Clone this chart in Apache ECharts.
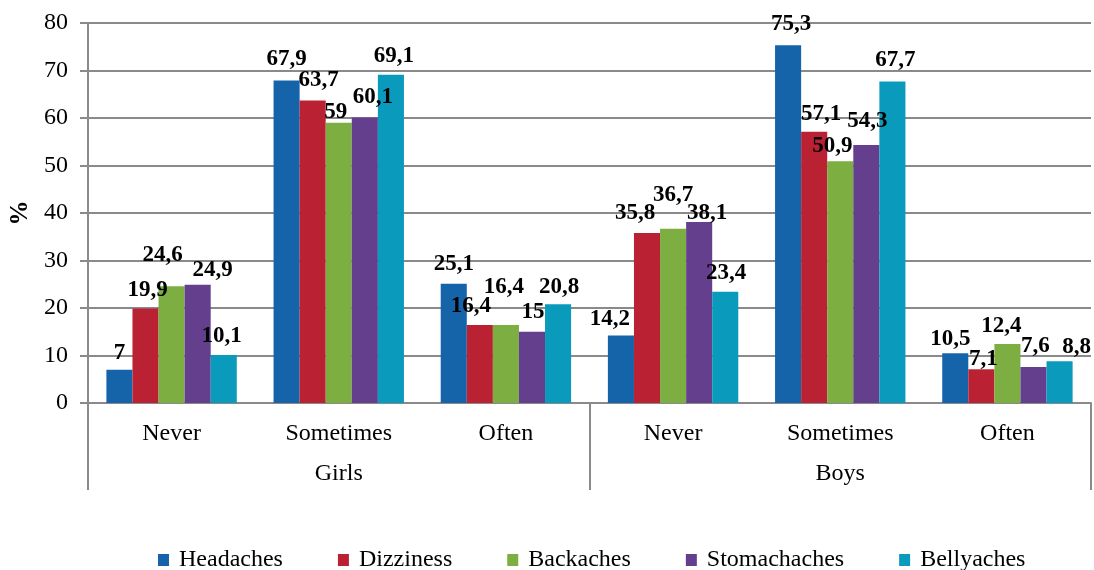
<!DOCTYPE html>
<html>
<head>
<meta charset="utf-8">
<script src="https://cdn.jsdelivr.net/npm/echarts@6/dist/echarts.min.js"></script>
<style>
  html, body { margin: 0; padding: 0; background: #fff; }
  #chart { width: 1094px; height: 570px; }
</style>
</head>
<body>
<div id="chart"></div>
<script>
// ---- data ----
const categories = ['Never', 'Sometimes', 'Often', 'Never', 'Sometimes', 'Often'];
const groups = ['Girls', 'Boys'];
const seriesNames = ['Headaches', 'Dizziness', 'Backaches', 'Stomachaches', 'Bellyaches'];
const headaches    = [7,    67.9, 25.1, 14.2, 75.3, 10.5];
const dizziness    = [19.9, 63.7, 16.4, 35.8, 57.1, 7.1];
const backaches    = [24.6, 59,   16.4, 36.7, 50.9, 12.4];
const stomachaches = [24.9, 60.1, 15,   38.1, 54.3, 7.6];
const bellyaches   = [10.1, 69.1, 20.8, 23.4, 67.7, 8.8];
const yMin = 0, yMax = 80, yStep = 10;
const yAxisName = '%';

// ---- styles ----
const colors = ['#1564AA', '#BA2233', '#7DAE41', '#633F8E', '#0A9ABB'];
const FONT = 'Liberation Serif';
const GREY = '#8a8a8a';
// label nudges [dx, dy] (style only, mimicking the original label placement)
const nudges = [
  [[0,0],[0,-5],[0,-3],[-11,0],[3,-5],[-5,2]],
  [[2,-2],[6,-4],[-9,-3],[-12,-3],[7,-1],[2,6]],
  [[-9,-15],[-3,6],[-2,-22],[0,-17],[-8,1],[-6,-2]],
  [[15,2],[8,-4],[1,-3],[8,8],[1,-8],[2,-4]],
  [[-2,-2],[3,-2],[1,-1],[1,-2],[3,-5],[17,2]]
];

const values = [headaches, dizziness, backaches, stomachaches, bellyaches];

const series = seriesNames.map((name, si) => ({
  name: name,
  type: 'bar',
  xAxisIndex: 0,
  barGap: '0%',
  barCategoryGap: '22%',
  itemStyle: { color: colors[si] },
  data: values[si].map((v, ci) => ({
    value: v,
    label: { offset: nudges[si][ci] }
  })),
  label: {
    show: true,
    position: 'top',
    distance: 5,
    fontFamily: FONT,
    fontWeight: 'bold',
    fontSize: 23,
    color: '#000',
    formatter: p => String(p.value).replace('.', ',')
  }
}));

const chart = echarts.init(document.getElementById('chart'));
chart.setOption({
  animation: false,
  backgroundColor: '#fff',
  color: colors,
  grid: { left: 88, right: 3, top: 23, bottom: 167, containLabel: false, outerBoundsMode: 'none' },
  legend: {
    data: seriesNames,
    left: 153,
    top: 543,
    itemWidth: 11,
    itemHeight: 12,
    itemGap: 55,
    icon: 'rect',
    textStyle: { fontFamily: FONT, fontSize: 24, color: '#000', padding: [0, 0, 0, 5] }
  },
  xAxis: [
    {
      type: 'category',
      data: categories,
      position: 'bottom',
      axisLine: { show: true, lineStyle: { color: GREY, width: 2 } },
      axisTick: { show: false },
      axisLabel: { fontFamily: FONT, fontSize: 24, color: '#000', margin: 19, interval: 0 }
    },
    {
      type: 'category',
      data: groups,
      position: 'bottom',
      offset: 0,
      axisLine: { show: false },
      axisTick: { show: true, length: 87, interval: 0, lineStyle: { color: GREY, width: 2 } },
      axisLabel: { fontFamily: FONT, fontSize: 24, color: '#000', margin: 59, interval: 0 },
      splitLine: { show: false }
    }
  ],
  yAxis: {
    type: 'value',
    min: yMin,
    max: yMax,
    interval: yStep,
    name: yAxisName,
    nameLocation: 'middle',
    nameGap: 52,
    nameRotate: 90,
    nameTextStyle: { fontFamily: FONT, fontWeight: 'bold', fontSize: 25, color: '#000' },
    axisLine: { show: true, lineStyle: { color: GREY, width: 2 } },
    axisTick: { show: true, length: 8, lineStyle: { color: GREY, width: 2 } },
    axisLabel: { fontFamily: FONT, fontSize: 24, color: '#000', margin: 20 },
    splitLine: { show: true, lineStyle: { color: GREY, width: 2 } }
  },
  series: series
});
</script>
</body>
</html>
